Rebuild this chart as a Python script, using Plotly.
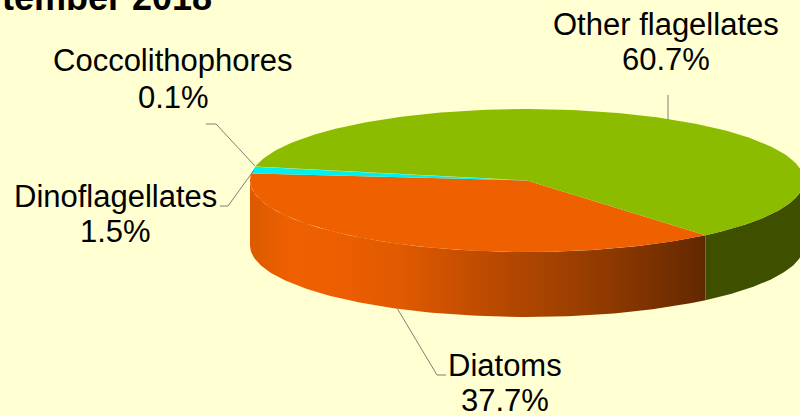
import numpy as np
import plotly.graph_objects as go

categories = ["Diatoms", "Dinoflagellates", "Coccolithophores", "Other flagellates"]
values = [37.7, 1.5, 0.1, 60.7]
top_colors = ["#EE6000", "#00F0F0", "#B8C820", "#8CBC00"]
BG = "#FFFFD2"
FONT = "Liberation Sans, Arial, sans-serif"

# pie geometry in canvas units
CX, CY, RX, RY, DEPTH = 527, 180.5, 277, 71.5, 65
START_DEG = 49.9


def rim(a0, a1, n=120):
    t = np.radians(np.linspace(a0, a1, n))
    return CX + RX * np.cos(t), CY + RY * np.sin(t)


fig = go.Figure()

# slice angle ranges, clockwise on screen from the start angle
edges = START_DEG + np.cumsum([0] + values) / sum(values) * 360

# outer wall: only the front half of the rim is visible
def wall(a0, a1, **style):
    x, y = rim(a0, a1)
    fig.add_trace(go.Scatter(
        x=np.r_[x, x[::-1], x[0]], y=np.r_[y, y[::-1] + DEPTH, y[0]],
        mode="lines", line=dict(width=0), fill="toself", hoverinfo="skip",
        showlegend=False, **style))


wall(0, edges[0], fillcolor="#3E5000")
wall(edges[0], 180, fillgradient=dict(
    type="horizontal",
    colorscale=[[0, "#DC5A00"], [0.09, "#EE6000"], [0.2, "#EC5E00"], [0.33, "#E05A00"],
                [0.5, "#C04C00"], [0.72, "#9A3E00"], [0.88, "#7C3200"], [1, "#622800"]]))

# top face slices
for i, name in enumerate(categories):
    x, y = rim(edges[i], edges[i + 1], 200)
    fig.add_trace(go.Scatter(
        x=np.r_[CX, x, CX], y=np.r_[CY, y, CY], mode="lines", name=name,
        line=dict(width=0), fill="toself", fillcolor=top_colors[i],
        hoverinfo="name", showlegend=False))

# leader lines
leaders = [
    "M206,124 L216,124 L255,166",
    "M220,206 L228,206 L254,170",
    "M397,308 L437,375 L446,375",
    "M668,95 L668,120",
]
shapes = [dict(type="path", path=p, line=dict(color="#7F7F78", width=1)) for p in leaders]

# labels: name line and percent line, one annotation each
label_pos = {
    "Other flagellates": (666, 24, 59),
    "Coccolithophores": (173, 60, 97),
    "Dinoflagellates": (115, 196, 231),
    "Diatoms": (505, 365, 400),
}
annotations = []
for name, v in zip(categories, values):
    lx, y1, y2 = label_pos[name]
    for text, yy in ((name, y1), (f"{v:.1f}%", y2)):
        annotations.append(dict(x=lx, y=yy, xref="x", yref="y", text=text, showarrow=False,
                                xanchor="center", yanchor="middle",
                                font=dict(family=FONT, size=31, color="#000000")))
annotations.append(dict(x=214, y=0, xref="x", yref="y", yshift=3, text="<b>tember 2018</b>", showarrow=False,
                        xanchor="right", yanchor="middle",
                        font=dict(family=FONT, size=36, color="#000000")))

fig.update_layout(
    width=800, height=416, margin=dict(l=0, r=0, t=0, b=0),
    paper_bgcolor=BG, plot_bgcolor=BG, showlegend=False,
    xaxis=dict(range=[0, 800], visible=False, fixedrange=True),
    yaxis=dict(range=[416, 0], visible=False, fixedrange=True),
    shapes=shapes, annotations=annotations,
)
fig.write_html("out.html", config=dict(displayModeBar=False),
               post_script="document.body.style.margin='0';document.documentElement.style.overflow='hidden';")
